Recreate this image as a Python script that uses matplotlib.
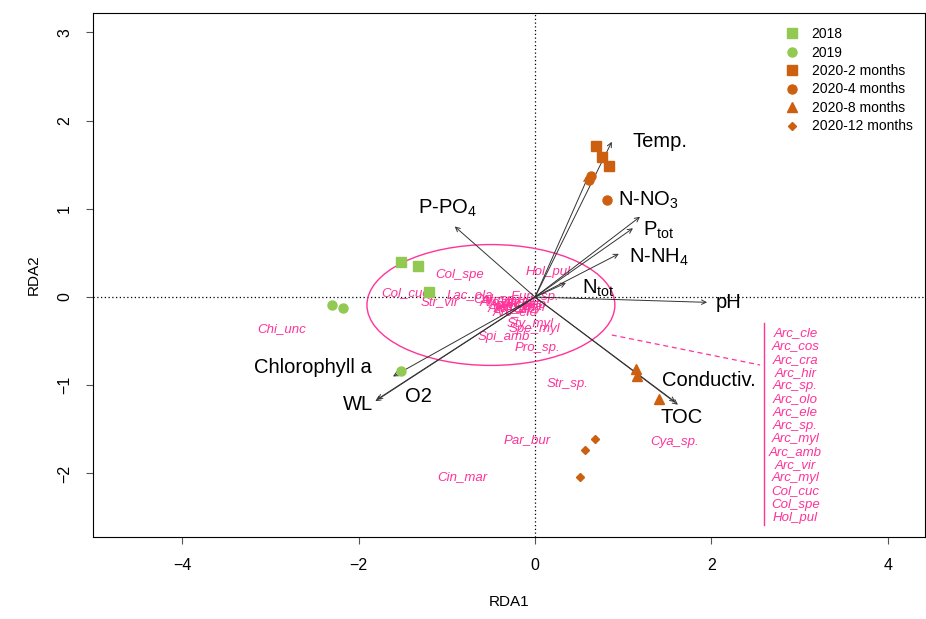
import numpy as np
import matplotlib
matplotlib.use("Agg")
import matplotlib.pyplot as plt
from matplotlib.patches import Ellipse

plt.rcParams['font.family'] = ['Liberation Sans', 'DejaVu Sans']
plt.rcParams['mathtext.default'] = 'regular'

GREEN = '#92C952'
ORANGE = '#CC6010'
PINK = '#FF3399'

# site scores by group
s2018_x = [-1.52, -1.33, -1.20]
s2018_y = [0.40, 0.35, 0.06]
s2019_x = [-2.30, -2.18, -1.52]
s2019_y = [-0.09, -0.12, -0.84]
m2_x = [0.69, 0.76, 0.84]
m2_y = [1.71, 1.59, 1.48]
m4_x = [0.61, 0.63, 0.82]
m4_y = [1.33, 1.37, 1.10]
m8_x = [1.15, 1.16, 1.41]
m8_y = [-0.82, -0.89, -1.16]
m12_x = [0.68, 0.57, 0.51]
m12_y = [-1.61, -1.73, -2.04]

# environmental arrows
env_names = ['Temp.', '', 'N-NO$_3$', 'P$_{tot}$', 'N-NH$_4$', 'N$_{tot}$', 'pH',
             'Conductiv.', 'TOC', 'P-PO$_4$', 'Chlorophyll a', 'O2', 'WL']
env_x = [0.87, 0.60, 1.19, 1.11, 0.95, 0.35, 1.95, 1.59, 1.62, -0.91, -1.61, -1.79, -1.81]
env_y = [1.76, 1.36, 0.91, 0.78, 0.49, 0.16, -0.06, -1.19, -1.22, 0.80, -0.90, -1.16, -1.18]
lab_x = [1.10, 0, 0.94, 1.22, 1.07, 0.53, 2.05, 1.44, 1.42, -1.33, -1.85, -1.47, -2.18]
lab_y = [1.76, 0, 1.10, 0.76, 0.45, 0.10, -0.06, -0.95, -1.36, 1.00, -0.80, -1.13, -1.22]
lab_ha = ['left', 'left', 'left', 'left', 'left', 'left', 'left', 'left', 'left',
          'left', 'right', 'left', 'left']

# species scores
sp_names = ['Hol_pul', 'Col_spe', 'Col_cuc', 'Str_vir', 'Lac_ola', 'Col_sp.', 'Eun_sp.',
            'Arc_amb', 'Arc_vir', 'Arc_cle', 'Arc_cos', 'Arc_cra', 'Arc_hir', 'Arc_sp.',
            'Arc_olo', 'Arc_ele', 'Arc_myl', 'Sty_myl', 'Spe_myl', 'Spi_amb', 'Pro_sp.',
            'Chi_unc', 'Str_sp.', 'Par_bur', 'Cin_mar', 'Cya_sp.']
sp_x = [0.15, -0.86, -1.47, -1.08, -0.74, -0.45, 0.00,
        -0.33, -0.38, -0.20, -0.25, -0.18, -0.30, -0.22,
        -0.12, -0.23, -0.15, -0.06, -0.01, -0.35, 0.03,
        -2.87, 0.37, -0.09, -0.82, 1.58]
sp_y = [0.28, 0.25, 0.05, -0.06, 0.02, -0.03, 0.00,
        -0.06, -0.03, -0.05, -0.08, -0.10, -0.12, -0.13,
        -0.08, -0.17, -0.12, -0.31, -0.36, -0.45, -0.58,
        -0.36, -0.99, -1.62, -2.04, -1.64]

side_list = ['Arc_cle', 'Arc_cos', 'Arc_cra', 'Arc_hir', 'Arc_sp.', 'Arc_olo', 'Arc_ele',
             'Arc_sp.', 'Arc_myl', 'Arc_amb', 'Arc_vir', 'Arc_myl', 'Col_cuc', 'Col_spe',
             'Hol_pul']

fig = plt.figure(figsize=(9.26, 6.19), dpi=100)
ax = fig.add_axes([93/926, 1-537/619, 832/926, 524/619])
ax.set_xlim(-5.01, 4.42)
ax.set_ylim(-2.72, 3.22)

ax.axhline(0, color='black', ls=(0, (1, 2)), lw=0.9, zorder=1)
ax.axvline(0, color='black', ls=(0, (1, 2)), lw=0.9, zorder=1)

ax.add_patch(Ellipse((-0.50, -0.09), 2.81, 1.37, angle=0, fill=False,
                     edgecolor=PINK, lw=1.0, zorder=2))

for x, y, t in zip(sp_x, sp_y, sp_names):
    ax.text(x, y, t, color=PINK, fontsize=9.5, style='italic',
            ha='center', va='center', zorder=3)

for x, y in zip(env_x, env_y):
    ax.annotate('', xy=(x, y), xytext=(0, 0),
                arrowprops=dict(arrowstyle='->', color='#333333', lw=0.7,
                                shrinkA=0, shrinkB=0, mutation_scale=8), zorder=4)
for x, y, t, ha in zip(lab_x, lab_y, env_names, lab_ha):
    if t:
        ax.text(x, y, t, fontsize=14.5, ha=ha, va='center', color='black', zorder=5)

ax.plot(s2018_x, s2018_y, 's', color=GREEN, ms=6.5, ls='none', zorder=6, label='2018')
ax.plot(s2019_x, s2019_y, 'o', color=GREEN, ms=6.5, ls='none', zorder=6, label='2019')
ax.plot(m2_x, m2_y, 's', color=ORANGE, ms=6.5, ls='none', zorder=6, label='2020-2 months')
ax.plot(m4_x, m4_y, 'o', color=ORANGE, ms=6.5, ls='none', zorder=6, label='2020-4 months')
ax.plot(m8_x, m8_y, '^', color=ORANGE, ms=7, ls='none', zorder=6, label='2020-8 months')
ax.plot(m12_x, m12_y, 'D', color=ORANGE, ms=4.5, ls='none', zorder=6, label='2020-12 months')

# species list on the right
ax.plot([0.87, 2.55], [-0.43, -0.77], color=PINK, ls=(0, (4, 3)), lw=0.9)
ax.plot([2.59, 2.59], [-0.29, -2.58], color=PINK, lw=1.0)
for i, t in enumerate(side_list):
    ax.text(2.95, -0.41 - i*0.1495, t, color=PINK, fontsize=9.5, style='italic',
            ha='center', va='center')

leg = ax.legend(loc='upper left', bbox_to_anchor=(0.832, 0.973), frameon=False,
                fontsize=10, borderpad=0, borderaxespad=0, handlelength=1.0,
                handletextpad=0.9, labelspacing=0.32, numpoints=1)

ax.set_xticks([-4, -2, 0, 2, 4])
ax.set_yticks([-2, -1, 0, 1, 2, 3])
ax.tick_params(axis='both', length=5, width=0.8, color='#555555', labelsize=11.5, pad=10)
for lbl in ax.get_yticklabels():
    lbl.set_rotation(90)
    lbl.set_va('center')
ax.set_xlabel('RDA1', fontsize=11, labelpad=16)
ax.set_ylabel('RDA2', fontsize=11, labelpad=12)
for s in ax.spines.values():
    s.set_linewidth(0.8)

fig.savefig('out.png', dpi=100)
